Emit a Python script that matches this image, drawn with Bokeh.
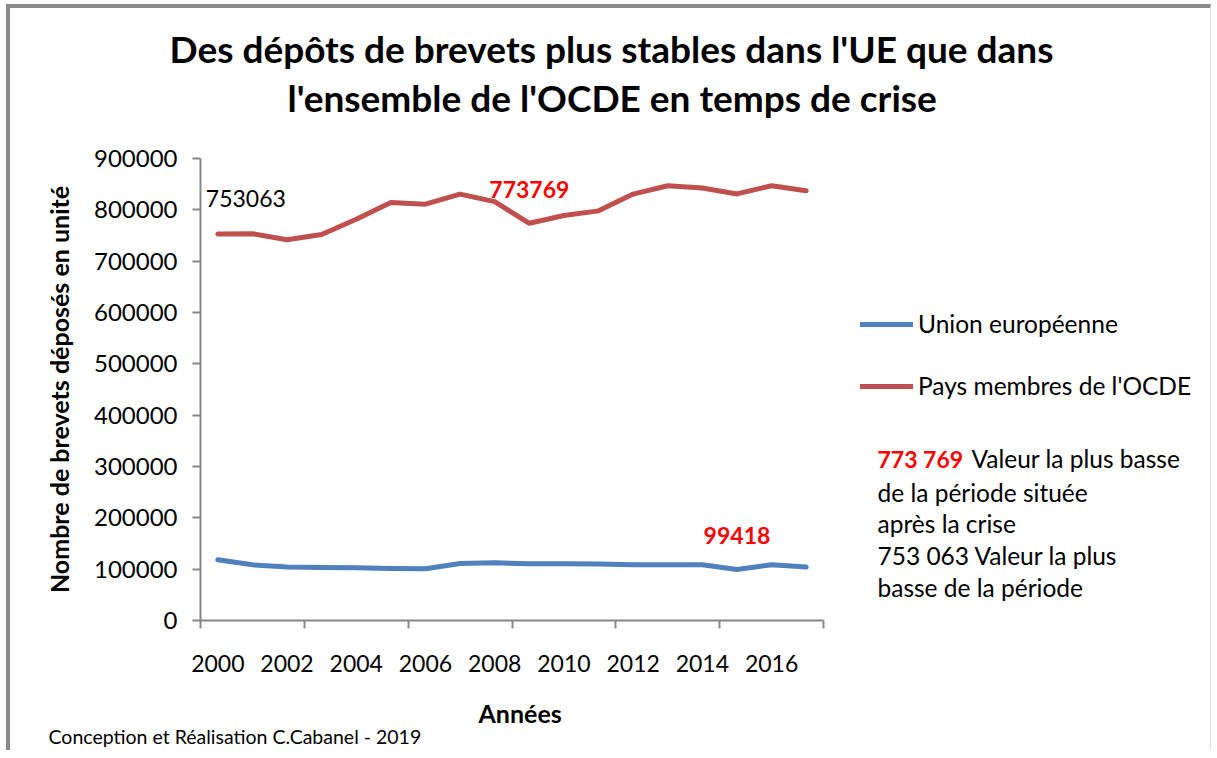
from bokeh.plotting import figure
from bokeh.models import Label, Legend, LegendItem, FixedTicker, NumeralTickFormatter, Range1d, Title
from bokeh.embed import file_html
from bokeh.resources import INLINE

# ---------------- data ----------------
years = list(range(2000, 2018))
ue = [118300, 108500, 104000, 103300, 103000, 101300, 100700, 111000, 112400,
      110500, 110500, 110000, 108500, 108500, 108500, 99418, 108500, 104000]
ocde = [753063, 753500, 741800, 752000, 781700, 814400, 811000, 830700, 816000,
        773769, 789000, 798000, 830700, 847000, 842500, 831000, 847000, 837000]
y_ticks = [0, 100000, 200000, 300000, 400000, 500000, 600000, 700000, 800000, 900000]
x_label_years = [2000, 2002, 2004, 2006, 2008, 2010, 2012, 2014, 2016]
tick_every = 3

title_lines = ["Des dépôts de brevets plus stables dans l'UE que dans",
               "l'ensemble de l'OCDE en temps de crise"]
x_title = "Années"
y_title = "Nombre de brevets déposés en unité"
series_names = ["Union européenne", "Pays membres de l'OCDE"]
note_first = ["773 769", "Valeur la plus basse"]
note_lines = ["de la période située", "après la crise", "753 063 Valeur la plus", "basse de la période"]
footer = "Conception et Réalisation C.Cabanel - 2019"

FONT = "Lato"
GRAY = "#868686"
BLUE = "#4F81BD"
RED = "#C0504D"

n = len(years)
xs = [i + 0.5 for i in range(n)]

# geometry (page pixels)
OX, OY = 10, 8            # canvas origin on the page (margin + css border)
FL, FT = 200, 158         # frame left/top
AXW, FH = 623, 462        # width of the category axis, frame height
FR = 1210                 # frame extends right to hold legend and note
FW = FR - FL
W, H = 1205, 746

p = figure(width=W, height=H, output_backend="svg", toolbar_location=None,
           x_range=Range1d(0, n * FW / AXW), y_range=Range1d(0, y_ticks[-1]),
           min_border_left=FL - OX, min_border_top=FT - OY,
           min_border_right=W - (FL - OX) - FW,
           min_border_bottom=H - (FT - OY) - FH)
p.styles = {"margin-left": "6px", "margin-top": "4px",
            "border-top": "4px solid #8a8a8a", "border-left": "4px solid #8a8a8a",
            "border-right": "1px solid #dcdcdc"}
p.outline_line_color = None
p.xgrid.visible = False
p.ygrid.visible = False
p.background_fill_color = "white"
p.border_fill_color = "white"

def dx(px):
    return (px - FL) / AXW * n

def dy(py):
    return (FT + FH - py) / FH * y_ticks[-1]

# title (two lines, stacked above the frame; later additions sit farther away)
p.add_layout(Title(text=title_lines[1], align="left", offset=287 - FL, standoff=78,
                   text_font=FONT, text_font_size="37px", text_font_style="bold",
                   text_color="black"), "above")
p.add_layout(Title(text=title_lines[0], align="left", offset=169 - FL, standoff=-74,
                   text_font=FONT, text_font_size="37px", text_font_style="bold",
                   text_color="black"), "above")

# y axis
yax = p.yaxis[0]
yax.ticker = FixedTicker(ticks=y_ticks)
yax.formatter = NumeralTickFormatter(format="0")
yax.axis_line_color = GRAY
yax.axis_line_width = 2
yax.major_tick_line_color = GRAY
yax.major_tick_line_width = 2
yax.major_tick_out = 8
yax.major_tick_in = 0
yax.minor_tick_line_color = None
yax.major_label_text_font = FONT
yax.major_label_text_font_size = "24px"
yax.major_label_text_color = "black"
yax.major_label_standoff = 15
yax.axis_label = y_title
yax.axis_label_text_font = FONT
yax.axis_label_text_font_style = "bold"
yax.axis_label_text_font_size = "25px"
yax.axis_label_text_color = "black"
yax.axis_label_standoff = 17

# x axis: labels every 2 years, tick marks every 3 categories
xax = p.xaxis[0]
label_pos = [years.index(y) + 0.5 for y in x_label_years]
xax.ticker = FixedTicker(ticks=label_pos, minor_ticks=list(range(0, n + 1, tick_every)))
xax.major_label_overrides = {pos: str(y) for pos, y in zip(label_pos, x_label_years)}
xax.bounds = (0, n)
xax.axis_line_color = GRAY
xax.axis_line_width = 2
xax.major_tick_line_color = None
xax.major_tick_out = 0
xax.major_tick_in = 0
xax.minor_tick_line_color = GRAY
xax.minor_tick_line_width = 2
xax.minor_tick_out = 8
xax.minor_tick_in = 0
xax.major_label_text_font = FONT
xax.major_label_text_font_size = "23px"
xax.major_label_text_color = "black"
xax.major_label_standoff = 26

# x axis title and footer, stacked below the axis
p.add_layout(Title(text=x_title, align="left", offset=478 - FL, standoff=42,
                   text_font=FONT, text_font_size="25px", text_font_style="bold",
                   text_color="black"), "below")
p.add_layout(Title(text=footer, align="left", vertical_align="top", offset=48 - FL, standoff=-48,
                   text_font=FONT, text_font_size="19.5px", text_font_style="normal",
                   text_color="black"), "below")

r_ue = p.line(xs, ue, line_color=BLUE, line_width=5, line_cap="round", line_join="round")
r_oc = p.line(xs, ocde, line_color=RED, line_width=5, line_cap="round", line_join="round")

legend = Legend(items=[LegendItem(label=series_names[0], renderers=[r_ue]),
                       LegendItem(label=series_names[1], renderers=[r_oc])],
                location=(860 - FL, FT + FH - 400), orientation="vertical",
                border_line_color=None, background_fill_alpha=0,
                padding=0, margin=0, spacing=33, glyph_width=53, glyph_height=20,
                label_height=20, label_standoff=5,
                label_text_font=FONT, label_text_font_size="24.5px", label_text_color="black")
p.add_layout(legend)

def add_label(x, y, text, size, bold=False, color="black", align="left", x_off=0, y_off=0):
    p.add_layout(Label(x=x, y=y, text=text,
                       text_font=FONT, text_font_size=size,
                       text_font_style="bold" if bold else "normal", text_color=color,
                       text_align=align, text_baseline="middle",
                       x_offset=x_off, y_offset=y_off))

# data labels
i0 = 0
add_label(xs[i0], ocde[i0], str(ocde[i0]), "23px", x_off=-12, y_off=35)
i_min_oc = years.index(2009)
add_label(xs[i_min_oc], ocde[i_min_oc], str(ocde[i_min_oc]), "23px", bold=True, color="red",
          align="center", y_off=34)
i_min_ue = years.index(2015)
add_label(xs[i_min_ue], ue[i_min_ue], str(ue[i_min_ue]), "23px", bold=True, color="red",
          align="center", y_off=34)

# note block
note_y = [458, 491.5, 523, 555, 586.5]
add_label(dx(877), dy(note_y[0]), note_first[0], "23px", bold=True, color="red")
add_label(dx(971), dy(note_y[0]), note_first[1], "24.5px")
for k, t in enumerate(note_lines):
    add_label(dx(877), dy(note_y[k + 1]), t, "24.5px")

open("out.html", "w").write(file_html(p, INLINE))
